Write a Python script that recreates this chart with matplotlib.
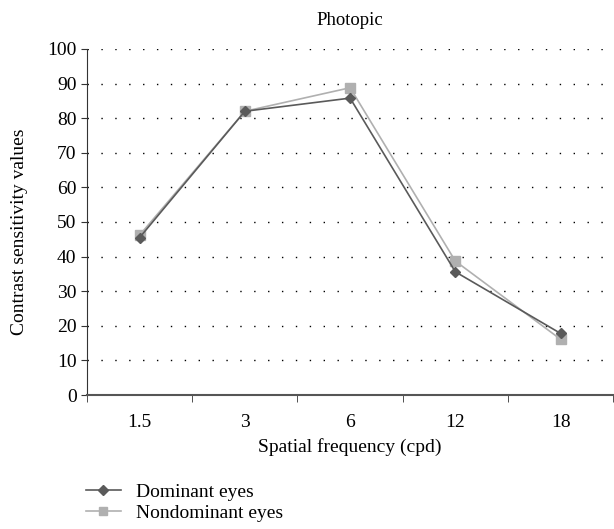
import matplotlib
matplotlib.use("Agg")
import matplotlib.pyplot as plt
import numpy as np

plt.rcParams['font.family'] = ['Liberation Serif', 'DejaVu Serif']

categories = ["1.5", "3", "6", "12", "18"]
dominant = [45.5, 82.0, 85.8, 35.6, 17.8]
nondominant = [46.2, 82.0, 88.8, 38.7, 16.1]
yticks = list(range(0, 101, 10))

fig = plt.figure(figsize=(6.14, 5.29), dpi=100)
ax = fig.add_axes([0.1417, 0.2533, 0.857, 0.6541])

x = np.arange(len(categories))
ax.plot(x, dominant, color="#5a5a5a", lw=1.2, marker="D", ms=5.5,
        label="Dominant eyes", zorder=3)
ax.plot(x, nondominant, color="#b0b0b0", lw=1.2, marker="s", ms=7,
        label="Nondominant eyes", zorder=2)

ax.set_xlim(-0.5, len(categories) - 0.5)
ax.set_ylim(0, 100)
ax.set_yticks(yticks)
ax.set_xticks(x)
ax.set_xticklabels(categories)
ax.set_xticks(np.arange(-0.5, len(categories), 1.0), minor=True)
ax.tick_params(axis="x", which="major", length=0, pad=14, labelsize=14)
ax.tick_params(axis="x", which="minor", length=5, direction="out", color="#333333")
ax.tick_params(axis="y", length=4, direction="out", labelsize=14, color="#333333")

ax.yaxis.grid(True, linestyle=(0, (1, 9)), color="black", lw=1.0)
ax.set_axisbelow(True)
for s in ["top", "right"]:
    ax.spines[s].set_visible(False)
ax.spines["left"].set_color("#333333")
ax.spines["bottom"].set_color("#555555")
ax.spines["bottom"].set_linewidth(1.5)

ax.set_title("Photopic", fontsize=13.5, pad=17)
ax.set_xlabel("Spatial frequency (cpd)", fontsize=14, labelpad=5)
ax.set_ylabel("Contrast sensitivity values", fontsize=14)
ax.yaxis.set_label_coords(-0.112, 0.471)

fig.legend(loc="upper left", bbox_to_anchor=(0.124, 0.105), frameon=False,
           fontsize=14, handlelength=1.8, handletextpad=0.8,
           labelspacing=0.2, borderpad=0, markerscale=0.85)

fig.savefig("out.png", dpi=100)
